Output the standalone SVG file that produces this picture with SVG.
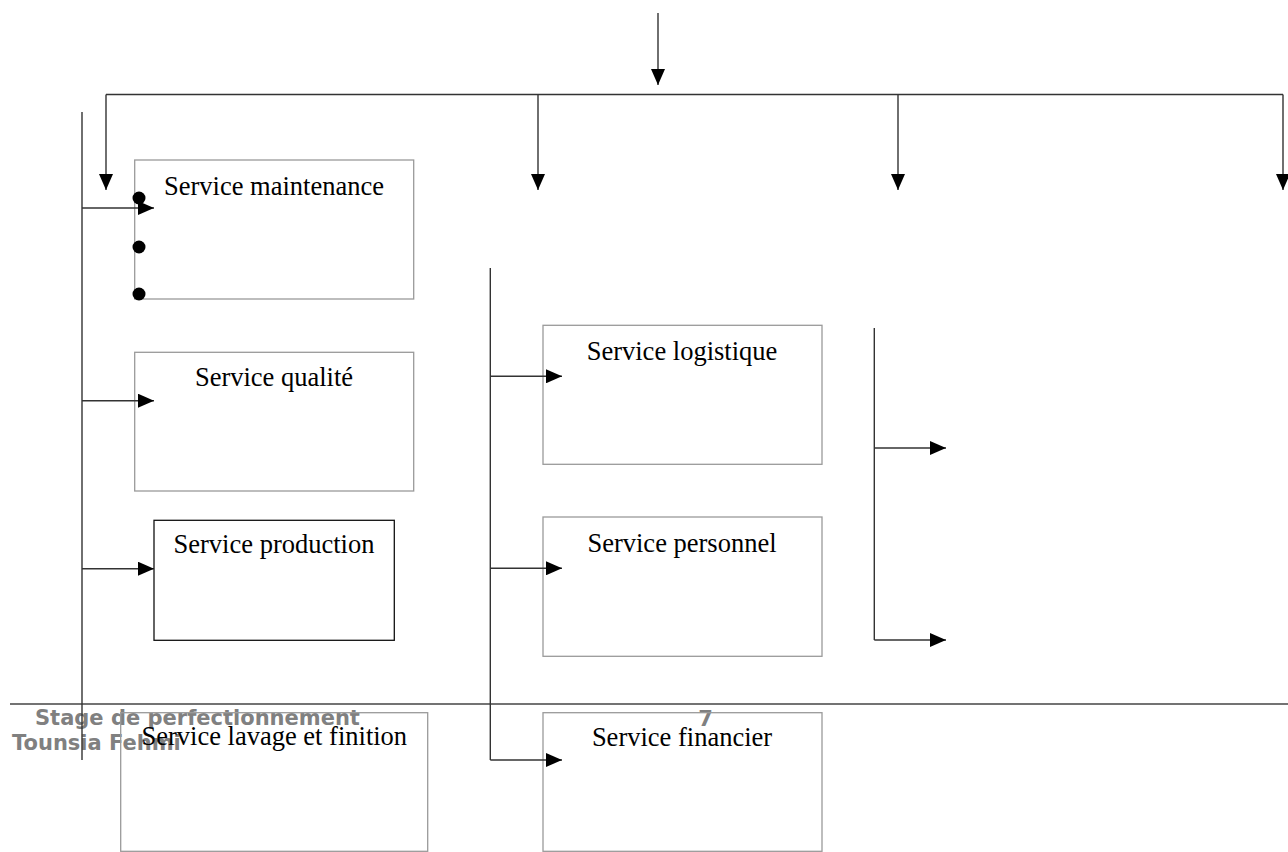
<svg xmlns="http://www.w3.org/2000/svg" width="1288" height="852" viewBox="0 0 1288 852">
<style>
.box{fill:none;stroke:#9a9a9a;stroke-width:1.3}
.boxd{fill:none;stroke:#111;stroke-width:1.3}
.lbl{font-family:"Liberation Serif","Times New Roman",serif;font-size:26.5px;fill:#000;text-anchor:middle}
.ln{fill:none;stroke:#333;stroke-width:1.4}
.arr{marker-end:url(#ah)}
.ft{font-family:"DejaVu Sans",sans-serif;font-weight:bold;font-size:21px;fill:#808080}
</style>
<defs>
<marker id="ah" viewBox="0 0 16 14" refX="16" refY="7" markerWidth="16" markerHeight="14" markerUnits="userSpaceOnUse" orient="auto">
<path d="M0,0 L16,7 L0,14 z" fill="#000"/>
</marker>
</defs>
<rect width="1288" height="852" fill="#fff"/>
<g id="footer">
<line x1="10" y1="704" x2="1288" y2="704" stroke="#444" stroke-width="1.4"/>
<text class="ft" x="35" y="725">Stage de perfectionnement</text>
<text class="ft" x="12" y="750">Tounsia Fehmi</text>
<text class="ft" x="705.5" y="726" text-anchor="middle">7</text>
</g>
<g id="n-maintenance">
<rect class="box" x="134.7" y="160" width="279" height="139"/>
<text class="lbl" x="274" y="195">Service maintenance</text>
<circle cx="139" cy="198" r="6.5"/>
<circle cx="139" cy="247" r="6.5"/>
<circle cx="139" cy="294" r="6.5"/>
</g>
<g id="n-qualite">
<rect class="box" x="134.7" y="352.3" width="279" height="138.7"/>
<text class="lbl" x="274" y="386">Service qualité</text>
</g>
<g id="n-production">
<rect class="boxd" x="154" y="520.3" width="240.3" height="120"/>
<text class="lbl" x="274" y="553.3">Service production</text>
</g>
<g id="n-lavage">
<rect class="box" x="120.7" y="712.7" width="307" height="138.6"/>
<text class="lbl" x="274.3" y="745">Service lavage et finition</text>
</g>
<g id="n-logistique">
<rect class="box" x="543" y="325.3" width="279" height="139"/>
<text class="lbl" x="682" y="360">Service logistique</text>
</g>
<g id="n-personnel">
<rect class="box" x="543" y="517" width="279" height="139.3"/>
<text class="lbl" x="682" y="552.3">Service personnel</text>
</g>
<g id="n-financier">
<rect class="box" x="543" y="712.7" width="279" height="138.6"/>
<text class="lbl" x="682" y="746">Service financier</text>
</g>
<g id="connectors">
<line class="ln arr" x1="658" y1="13" x2="658" y2="85"/>
<line class="ln" x1="106" y1="94.5" x2="1283" y2="94.5"/>
<line class="ln arr" x1="106" y1="94.5" x2="106" y2="190"/>
<line class="ln arr" x1="538" y1="94.5" x2="538" y2="190"/>
<line class="ln arr" x1="898" y1="94.5" x2="898" y2="190"/>
<line class="ln arr" x1="1283" y1="94.5" x2="1283" y2="190"/>
<line class="ln" x1="82" y1="112" x2="82" y2="760"/>
<line class="ln arr" x1="82" y1="208" x2="154" y2="208"/>
<line class="ln arr" x1="82" y1="400.7" x2="154" y2="400.7"/>
<line class="ln arr" x1="82" y1="568.7" x2="154" y2="568.7"/>
<line class="ln" x1="490.3" y1="268" x2="490.3" y2="760"/>
<line class="ln arr" x1="490.3" y1="376.3" x2="562" y2="376.3"/>
<line class="ln arr" x1="490.3" y1="568.3" x2="562" y2="568.3"/>
<line class="ln arr" x1="490.3" y1="760" x2="562" y2="760"/>
<line class="ln" x1="874.3" y1="328" x2="874.3" y2="640"/>
<line class="ln arr" x1="874.3" y1="448" x2="946" y2="448"/>
<line class="ln arr" x1="874.3" y1="640" x2="946" y2="640"/>
</g>
</svg>
